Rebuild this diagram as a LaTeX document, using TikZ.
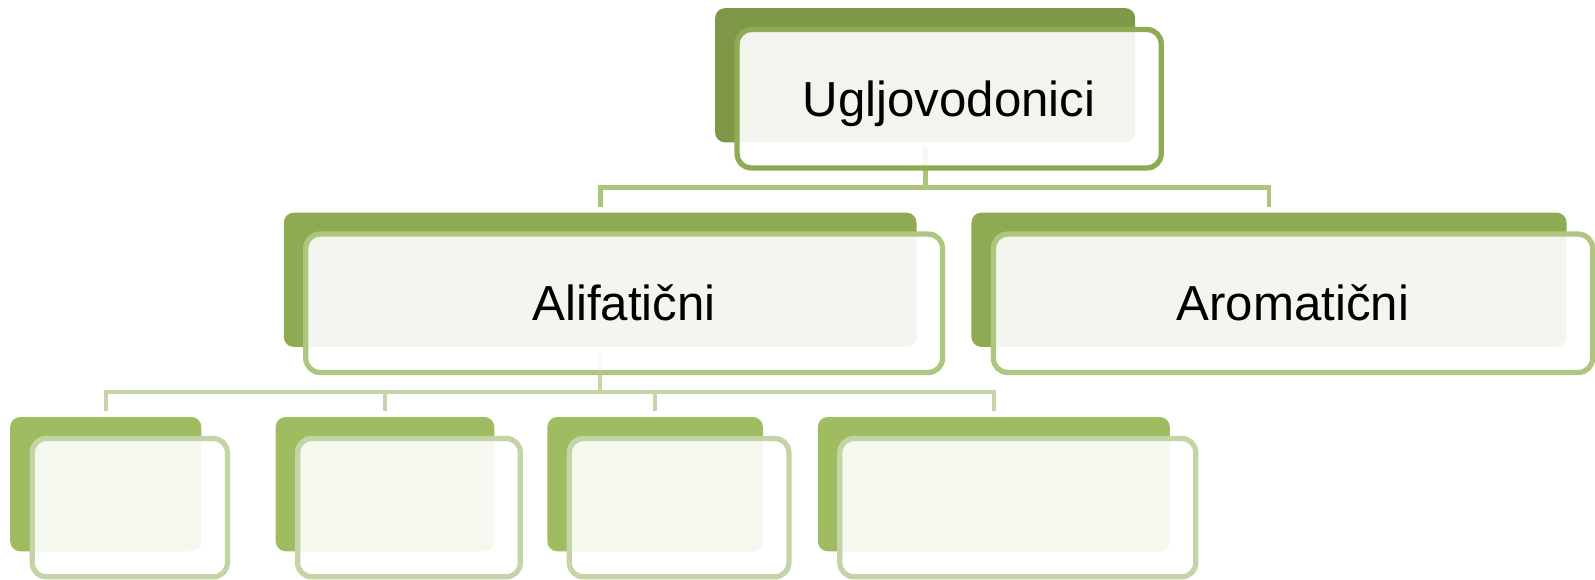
\documentclass[tikz,border=0pt]{standalone}
\usepackage{fontspec}
\setmainfont{Liberation Sans}
\usetikzlibrary{positioning, calc}
\definecolor{zelena1}{HTML}{7F9848}
\definecolor{zelena2}{HTML}{8EAA52}
\definecolor{zelena3}{HTML}{9FBC60}
\definecolor{okvir1}{HTML}{8DAB52}
\definecolor{okvir2}{HTML}{AEC67F}
\definecolor{okvir3}{HTML}{C3D5A7}
\definecolor{veza1}{HTML}{ABC57D}
\definecolor{veza2}{HTML}{C4D6A9}
\tikzset{
  zadnja/.style={rounded corners=0.1cm, inner sep=0pt, outer sep=0pt, minimum height=1.343cm},
  prednja/.style={draw, rounded corners=0.14cm, line width=1.5pt, fill=white, fill opacity=0.9, text opacity=1,
    inner sep=0pt, minimum height=1.383cm, text height=0.35cm, text depth=0pt, font=\fontsize{14}{17}\selectfont},
  veza/.style={line width=1.4pt, shorten <=0.05cm, shorten >=0.06cm}
}

\begin{document}
\begin{tikzpicture}
\useasboundingbox (0,0) rectangle (15.95,-5.8);
% zadnje plohe
\node[zadnja, fill=zelena1, minimum width=4.201cm] (ugljZ) at (9.2515,-0.7525) {};
\node[zadnja, fill=zelena2, minimum width=6.327cm] (aliZ) at (6.0015,-2.7975) {};
\node[zadnja, fill=zelena2, minimum width=5.951cm] (aromZ) at (12.69,-2.7975) {};
\node[zadnja, fill=zelena3, minimum width=1.912cm] (l3aZ) at (1.058,-4.8415) {};
\node[zadnja, fill=zelena3, minimum width=2.187cm] (l3bZ) at (3.85,-4.8415) {};
\node[zadnja, fill=zelena3, minimum width=2.156cm] (l3cZ) at (6.551,-4.8415) {};
\node[zadnja, fill=zelena3, minimum width=3.52cm] (l3dZ) at (9.938,-4.8415) {};

% veze
\coordinate (sab1) at ([yshift=-0.45cm]ugljZ.south);
\draw[veza, draw=veza1] (ugljZ.south) -- (sab1) -| (aliZ.north);
\draw[veza, draw=veza1] (ugljZ.south) -- (sab1) -| (aromZ.north);
\coordinate (sab2) at ([yshift=-0.45cm]aliZ.south);
\draw[veza, line width=1.2pt, draw=veza2] (aliZ.south) -- (sab2) -| (l3aZ.north);
\draw[veza, line width=1.2pt, draw=veza2] (aliZ.south) -- (sab2) -| (l3bZ.north);
\draw[veza, line width=1.2pt, draw=veza2] (aliZ.south) -- (sab2) -| (l3cZ.north);
\draw[veza, line width=1.2pt, draw=veza2] (aliZ.south) -- (sab2) -| (l3dZ.north);

% prednje plohe
\node[prednja, draw=okvir1, minimum width=4.241cm] (ugljP) at ([shift={(0.24,-0.235)}]ugljZ.center) {Ugljovodonici};
\node[prednja, draw=okvir2, minimum width=6.367cm] (aliP) at ([shift={(0.24,-0.235)}]aliZ.center) {Alifatični};
\node[prednja, draw=okvir2, minimum width=5.991cm] (aromP) at ([shift={(0.24,-0.235)}]aromZ.center) {Aromatični};
\node[prednja, draw=okvir3, minimum width=1.952cm] (l3aP) at ([shift={(0.24,-0.235)}]l3aZ.center) {};
\node[prednja, draw=okvir3, minimum width=2.227cm] (l3bP) at ([shift={(0.24,-0.235)}]l3bZ.center) {};
\node[prednja, draw=okvir3, minimum width=2.196cm] (l3cP) at ([shift={(0.24,-0.235)}]l3cZ.center) {};
\node[prednja, draw=okvir3, minimum width=3.56cm] (l3dP) at ([shift={(0.24,-0.235)}]l3dZ.center) {};
\end{tikzpicture}
\end{document}
